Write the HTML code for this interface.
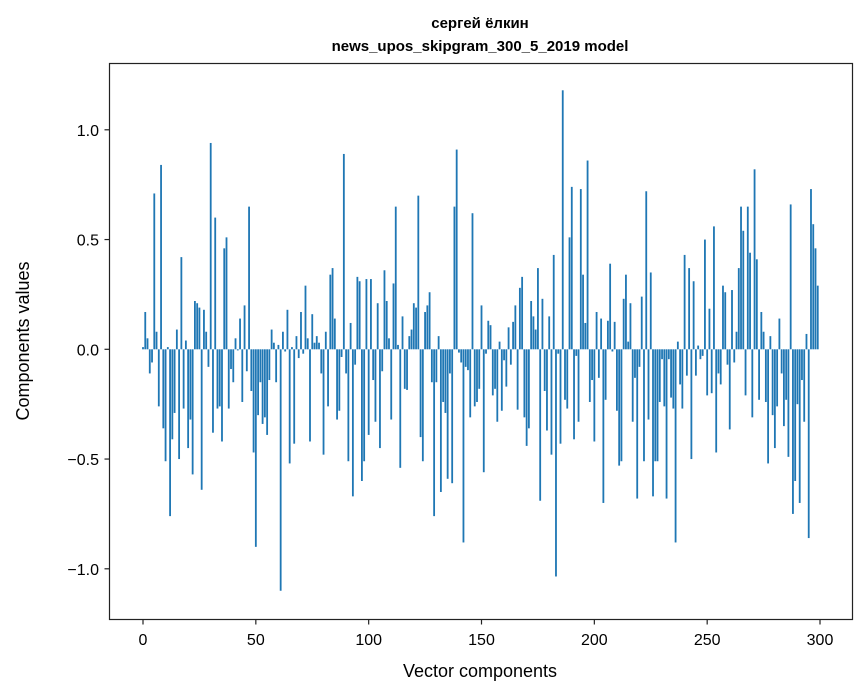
<!DOCTYPE html>
<html><head><meta charset="utf-8">
<style>
html,body{margin:0;padding:0;background:#fff;}
svg{display:block;font-family:"Liberation Sans","DejaVu Sans",sans-serif;}
</style></head>
<body>
<svg id="chart" width="867" height="696" viewBox="0 0 867 696" xmlns="http://www.w3.org/2000/svg">
<rect x="0" y="0" width="867" height="696" fill="#fff"/>
<text x="480" y="28" text-anchor="middle" font-size="15" font-weight="bold" fill="#000">сергей ёлкин</text>
<text x="480" y="51" text-anchor="middle" font-size="15" font-weight="bold" fill="#000">news_upos_skipgram_300_5_2019 model</text>
<g id="bars"></g>
<g id="xticks"></g>
<g id="yticks"></g>
<rect x="109.5" y="63.5" width="743" height="556" fill="none" stroke="#222" stroke-width="1.2"/>
<text x="480" y="677" text-anchor="middle" font-size="18" fill="#000">Vector components</text>
<text x="29" y="341" text-anchor="middle" font-size="18" fill="#000" transform="rotate(-90 29 341)">Components values</text>
</svg>
<script>
const values = [
0.01,0.17,0.05,-0.11,-0.06,0.71,0.08,-0.26,0.84,-0.36,
-0.51,0.01,-0.76,-0.41,-0.29,0.09,-0.50,0.42,-0.27,0.04,
-0.45,-0.32,-0.57,0.22,0.21,0.19,-0.64,0.18,0.08,-0.08,
0.94,-0.38,0.60,-0.27,-0.26,-0.42,0.46,0.51,-0.27,-0.09,
-0.15,0.05,-0.005,0.14,-0.24,0.20,-0.10,0.65,-0.19,-0.47,
-0.90,-0.30,-0.15,-0.34,-0.31,-0.39,-0.14,0.09,0.03,-0.15,
0.02,-1.10,0.08,-0.01,0.18,-0.52,0.01,-0.43,0.06,-0.04,
0.17,-0.02,0.29,0.05,-0.42,0.16,0.03,0.06,0.03,-0.11,
-0.48,0.08,-0.26,0.34,0.37,0.14,-0.32,-0.28,-0.035,0.89,
-0.11,-0.51,0.12,-0.67,-0.07,0.33,0.31,-0.60,-0.51,0.32,
-0.39,0.32,-0.14,-0.33,0.21,-0.45,-0.10,0.36,0.22,0.05,
-0.32,0.30,0.65,0.02,-0.54,0.15,-0.18,-0.185,0.06,0.09,
0.21,0.19,0.70,-0.40,-0.51,0.17,0.20,0.26,-0.15,-0.76,
-0.15,0.06,-0.65,-0.24,-0.29,-0.59,-0.11,-0.61,0.65,0.91,
-0.015,-0.06,-0.88,-0.08,-0.095,-0.31,0.62,-0.26,-0.24,-0.18,
0.20,-0.56,-0.02,0.13,0.11,-0.21,-0.18,-0.33,0.035,-0.28,
-0.05,-0.17,0.10,-0.07,0.125,0.20,-0.275,0.28,0.33,-0.31,
-0.44,-0.36,0.22,0.15,0.09,0.37,-0.69,0.23,-0.19,-0.37,
0.15,-0.48,0.43,-1.035,-0.02,-0.43,1.18,-0.23,-0.27,0.51,
0.74,-0.41,-0.03,-0.33,0.73,0.34,0.12,0.86,-0.24,-0.14,
-0.42,0.17,-0.13,0.14,-0.70,-0.23,0.13,0.39,-0.01,0.125,
-0.28,-0.53,-0.51,0.23,0.34,0.035,0.21,-0.33,-0.13,-0.68,
-0.08,0.24,-0.51,0.72,-0.32,0.35,-0.67,-0.51,-0.51,-0.24,
-0.045,-0.26,-0.68,-0.045,-0.22,-0.27,-0.88,0.035,-0.16,-0.27,
0.43,-0.12,0.37,-0.50,0.31,-0.12,0.017,-0.045,-0.03,0.50,
-0.21,0.185,-0.20,0.56,-0.47,-0.11,-0.16,0.29,0.26,-0.07,
-0.365,0.27,-0.06,0.08,0.37,0.65,0.54,-0.21,0.65,0.44,
-0.31,0.82,0.41,-0.23,0.17,0.08,-0.24,-0.52,0.06,-0.30,
-0.45,-0.26,0.14,-0.11,-0.35,-0.23,-0.49,0.66,-0.75,-0.60,
-0.25,-0.70,-0.14,-0.33,0.07,-0.86,0.73,0.57,0.46,0.29
];
const xTickValues = [0,50,100,150,200,250,300];
const xTickLabels = ["0","50","100","150","200","250","300"];
const yTickValues = [-1.0,-0.5,0.0,0.5,1.0];
const yTickLabels = ["\u22121.0","\u22120.5","0.0","0.5","1.0"];

const NS = "http://www.w3.org/2000/svg";
const X0 = 143, XS = 2.2567;
const Y0 = 349.3, YS = 219.5;
function xScale(v){ return X0 + XS * v; }
function yScale(v){ return Y0 - YS * v; }

const barsG = document.getElementById('bars');
const bw = 0.8 * XS;
values.forEach((v, i) => {
  const r = document.createElementNS(NS, 'rect');
  const y1 = yScale(Math.max(v, 0)), y2 = yScale(Math.min(v, 0));
  r.setAttribute('x', (xScale(i) - bw / 2).toFixed(2));
  r.setAttribute('y', y1.toFixed(2));
  r.setAttribute('width', bw.toFixed(2));
  r.setAttribute('height', Math.max(y2 - y1, 0.3).toFixed(2));
  r.setAttribute('fill', '#1f77b4');
  
  
  barsG.appendChild(r);
});

const xg = document.getElementById('xticks');
xTickValues.forEach((v, i) => {
  const x = xScale(v);
  const l = document.createElementNS(NS, 'line');
  l.setAttribute('x1', x); l.setAttribute('x2', x);
  l.setAttribute('y1', 619.5); l.setAttribute('y2', 624.5);
  l.setAttribute('stroke', '#222'); l.setAttribute('stroke-width', '1.2');
  
  
  xg.appendChild(l);
  const t = document.createElementNS(NS, 'text');
  t.setAttribute('x', x); t.setAttribute('y', 645);
  t.setAttribute('text-anchor', 'middle');
  t.setAttribute('font-size', '16');
  t.textContent = xTickLabels[i];
  
  
  xg.appendChild(t);
});

const yg = document.getElementById('yticks');
yTickValues.forEach((v, i) => {
  const y = yScale(v);
  const l = document.createElementNS(NS, 'line');
  l.setAttribute('x1', 104.5); l.setAttribute('x2', 109.5);
  l.setAttribute('y1', y); l.setAttribute('y2', y);
  l.setAttribute('stroke', '#222'); l.setAttribute('stroke-width', '1.2');
  
  
  yg.appendChild(l);
  const t = document.createElementNS(NS, 'text');
  t.setAttribute('x', 99); t.setAttribute('y', y + 6);
  t.setAttribute('text-anchor', 'end');
  t.setAttribute('font-size', '16');
  t.textContent = yTickLabels[i];
  
  
  yg.appendChild(t);
});
</script>
</body></html>
